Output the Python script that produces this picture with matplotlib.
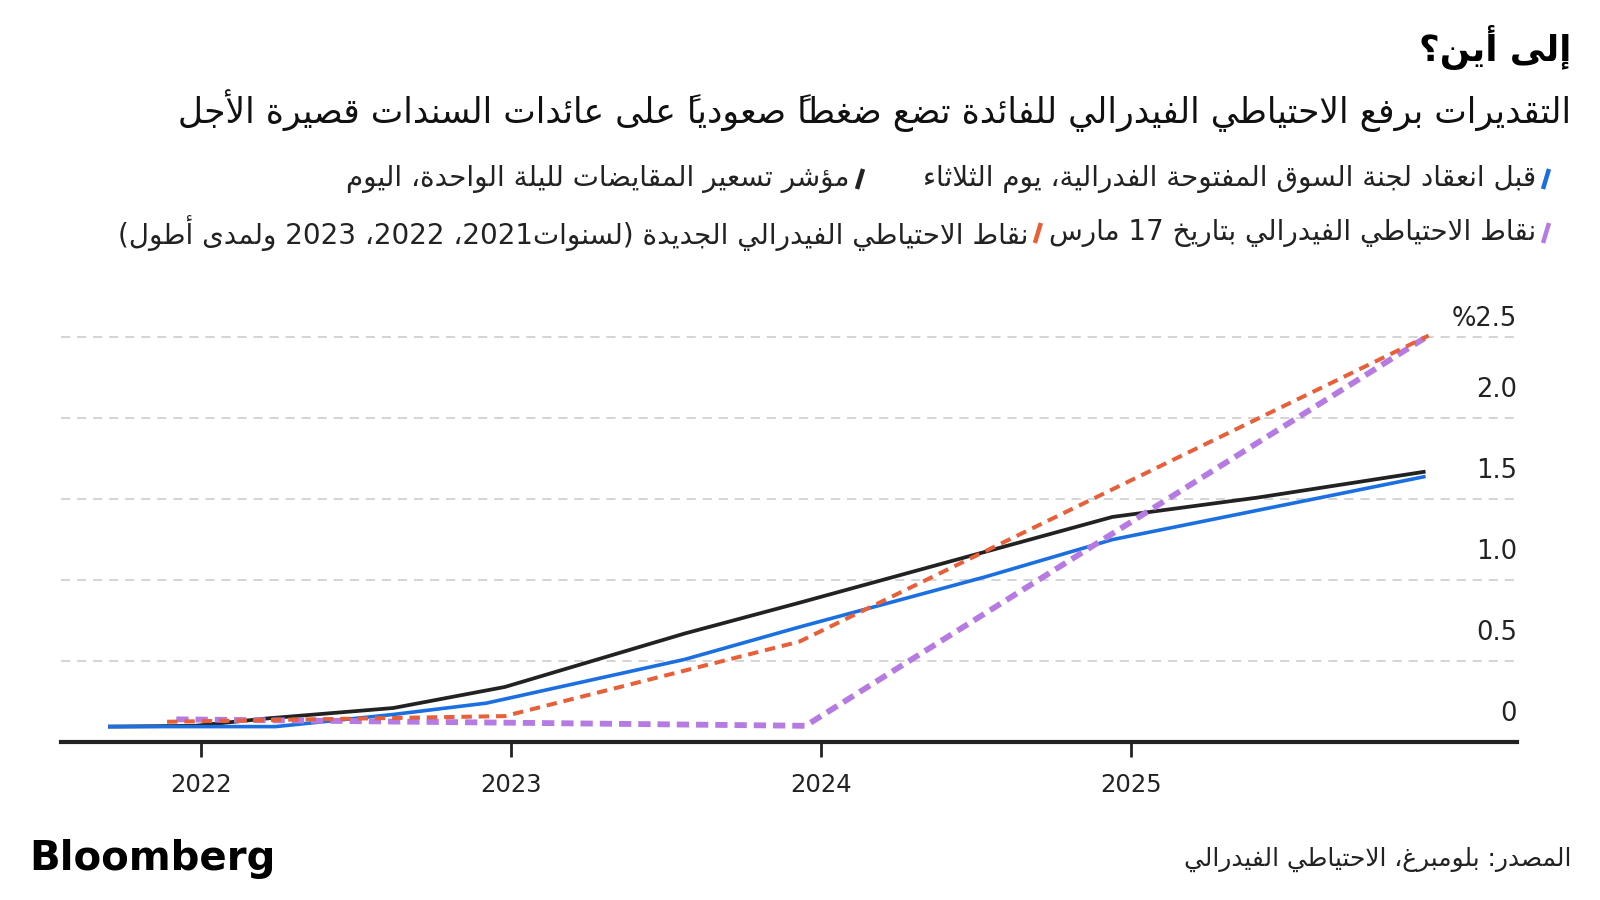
import matplotlib
matplotlib.use("Agg")
import matplotlib.pyplot as plt
from matplotlib.lines import Line2D

plt.rcParams["font.family"] = ["DejaVu Sans"]

# ---- data (decimal years, percent) ----
BLUE_X = [2021.70, 2022.24, 2022.62, 2022.92, 2023.56, 2023.93, 2024.53, 2024.94, 2025.95]
BLUE_Y = [0.095, 0.095, 0.17, 0.24, 0.51, 0.71, 1.02, 1.25, 1.64]
BLACK_X = [2021.70, 2021.98, 2022.21, 2022.62, 2022.98, 2023.56, 2023.93, 2024.94, 2025.41, 2025.95]
BLACK_Y = [0.095, 0.10, 0.145, 0.21, 0.34, 0.67, 0.86, 1.39, 1.51, 1.67]
ORANGE_X = [2021.89, 2022.98, 2023.93, 2025.96]
ORANGE_Y = [0.125, 0.16, 0.62, 2.51]
PURPLE_X = [2021.92, 2022.95, 2023.95, 2025.96]
PURPLE_Y = [0.14, 0.12, 0.10, 2.51]

X_TICKS = [2022, 2023, 2024, 2025]
X_LABELS = ["2022", "2023", "2024", "2025"]
Y_TICKS = [0, 0.5, 1.0, 1.5, 2.0, 2.5]
Y_LABELS = ["0", "0.5", "1.0", "1.5", "2.0", "%2.5"]

TITLE = "إلى أين؟"
SUBTITLE = "التقديرات برفع الاحتياطي الفيدرالي للفائدة تضع ضغطاً صعودياً على عائدات السندات قصيرة الأجل"
LEGEND_BLUE = "قبل انعقاد لجنة السوق المفتوحة الفدرالية، يوم الثلاثاء"
LEGEND_BLACK = "مؤشر تسعير المقايضات لليلة الواحدة، اليوم"
LEGEND_PURPLE = "نقاط الاحتياطي الفيدرالي بتاريخ 17 مارس"
LEGEND_ORANGE = "نقاط الاحتياطي الفيدرالي الجديدة (لسنوات2021، 2022، 2023 ولمدى أطول)"
SOURCE = "المصدر: بلومبرغ، الاحتياطي الفيدرالي"

BLUE = "#1b6fe0"
BLACK = "#222222"
ORANGE = "#e8603a"
PURPLE = "#b57be3"
GRID = "#c9c9c9"

# ---- minimal Arabic shaping + right-to-left ordering (no reshaper libs offline) ----
_DUAL = {"ئ": 0xFE89, "ب": 0xFE8F, "ت": 0xFE95, "ث": 0xFE99, "ج": 0xFE9D, "ح": 0xFEA1,
         "خ": 0xFEA5, "س": 0xFEB1, "ش": 0xFEB5, "ص": 0xFEB9, "ض": 0xFEBD, "ط": 0xFEC1,
         "ظ": 0xFEC5, "ع": 0xFEC9, "غ": 0xFECD, "ف": 0xFED1, "ق": 0xFED5, "ك": 0xFED9,
         "ل": 0xFEDD, "م": 0xFEE1, "ن": 0xFEE5, "ه": 0xFEE9, "ي": 0xFEF1}
_RIGHT = {"آ": 0xFE81, "أ": 0xFE83, "ؤ": 0xFE85, "إ": 0xFE87, "ا": 0xFE8D, "ة": 0xFE93,
          "د": 0xFEA9, "ذ": 0xFEAB, "ر": 0xFEAD, "ز": 0xFEAF, "و": 0xFEED, "ى": 0xFEEF}
_LAM_ALEF = {"آ": 0xFEF5, "أ": 0xFEF7, "إ": 0xFEF9, "ا": 0xFEFB}
_MARKS = {chr(c) for c in range(0x064B, 0x0653)}
_MIRROR = {"(": ")", ")": "("}


def _shape(text):
    chars = list(text)
    n = len(chars)

    def near(i, step):
        i += step
        while 0 <= i < n and chars[i] in _MARKS:
            i += step
        return chars[i] if 0 <= i < n else None

    out = []
    i = 0
    while i < n:
        c = chars[i]
        if c not in _DUAL and c not in _RIGHT:
            out.append("\uFE80" if c == "ء" else c)
            i += 1
            continue
        prev = near(i, -1)
        joined = prev in _DUAL
        if c == "ل" and i + 1 < n and chars[i + 1] in _LAM_ALEF:
            out.append(chr(_LAM_ALEF[chars[i + 1]] + (1 if joined else 0)))
            i += 2
            continue
        nxt = near(i, 1)
        if c in _RIGHT:
            out.append(chr(_RIGHT[c] + (1 if joined else 0)))
        else:
            ahead = nxt in _DUAL or nxt in _RIGHT
            base = _DUAL[c]
            if joined and ahead:
                out.append(chr(base + 3))
            elif joined:
                out.append(chr(base + 1))
            elif ahead:
                out.append(chr(base + 2))
            else:
                out.append(chr(base))
        i += 1
    return "".join(out)


def rtl(text):
    # marks have zero advance and hang to the right, so they go before their letter
    chars = list(_shape(text))
    chars.reverse()
    out, run = [], []
    for ch in chars:
        if ch.isdigit():
            run.append(ch)
            continue
        if run:
            out.extend(reversed(run))
            run = []
        out.append(_MIRROR.get(ch, ch))
    out.extend(reversed(run))
    return "".join(out)


# ---- figure ----
W, H = 1600, 900
fig = plt.figure(figsize=(16, 9), dpi=100)
fig.patch.set_facecolor("white")


def fx(px):
    return px / W


def fy(py):
    return 1 - py / H


ax = fig.add_axes([fx(61), fy(742), fx(1517) - fx(61), (742 - 321) / H])
ax.set_xlim(2021.548, 2026.245)
ax.set_ylim(0, 2.6)

ax.set_yticks(Y_TICKS)
ax.tick_params(axis="y", length=0, labelleft=False)
ax.grid(axis="y", color=GRID, linewidth=1.1, linestyle=(0, (6, 4.5)))
ax.set_axisbelow(True)

ax.plot(BLACK_X, BLACK_Y, color=BLACK, lw=2.7, solid_capstyle="butt", zorder=3)
ax.plot(BLUE_X, BLUE_Y, color=BLUE, lw=2.6, solid_capstyle="butt", zorder=4)
ax.plot(PURPLE_X, PURPLE_Y, color=PURPLE, lw=4.2, dashes=(2.1, 1.2),
        dash_capstyle="butt", zorder=5)
ax.plot(ORANGE_X, ORANGE_Y, color=ORANGE, lw=2.9, dashes=(2.6, 1.7),
        dash_capstyle="butt", zorder=6)

for side in ("top", "right", "left"):
    ax.spines[side].set_visible(False)
ax.spines["bottom"].set_linewidth(3)
ax.spines["bottom"].set_color(BLACK)
ax.spines["bottom"].set_zorder(7)

ax.set_xticks(X_TICKS, X_LABELS)
ax.tick_params(axis="x", direction="out", length=11, width=2, color=BLACK,
               labelsize=17.5, labelcolor=BLACK, pad=11)

for i, (v, lab) in enumerate(zip(Y_TICKS, Y_LABELS)):
    off = 13 if i == len(Y_TICKS) - 1 else 20
    ax.annotate(lab, xy=(1, v), xycoords=("axes fraction", "data"),
                xytext=(0, off), textcoords="offset points",
                ha="right", va="center", fontsize=18.5, color=BLACK)

renderer = fig.canvas.get_renderer()


def width(t):
    return t.get_window_extent(renderer).width


def fit(t, target):
    t.set_fontsize(t.get_fontsize() * target / width(t))


title = fig.text(fx(1571), fy(48), rtl(TITLE), ha="right", va="center",
                 fontsize=24, fontweight="bold", color="#000000")
fit(title, 153)
sub = fig.text(fx(1571), fy(111), rtl(SUBTITLE), ha="right", va="center",
               fontsize=22, color="#111111")
fit(sub, 1396)

# legend: slash marker then its label to the left, right to left along each row;
# the second marker sits where the reference puts it unless the first label is in the way
legend_rows = [
    (179, [(BLUE, LEGEND_BLUE), (BLACK, LEGEND_BLACK)], 860),
    (233, [(PURPLE, LEGEND_PURPLE), (ORANGE, LEGEND_ORANGE)], 1051),
]
probe = [fig.text(0, 0, rtl(s), fontsize=18) for s in (LEGEND_PURPLE, LEGEND_ORANGE)]
leg_size = 18 * 1396 / sum(width(t) for t in probe)
for t in probe:
    t.remove()

for y, items, second_x in legend_rows:
    xs = 1546
    for color, label in items:
        fig.add_artist(Line2D([fx(xs - 3), fx(xs + 3)], [fy(y + 10), fy(y - 10)],
                              color=color, lw=3.2, solid_capstyle="butt"))
        t = fig.text(fx(xs - 10), fy(y), rtl(label), ha="right", va="center",
                     fontsize=leg_size, color=BLACK)
        xs = min(second_x, xs - 10 - width(t) - 11)

fig.text(fx(29), fy(859), "Bloomberg", ha="left", va="center",
         fontsize=29, fontweight="bold", color="#000000")
src = fig.text(fx(1571), fy(859), rtl(SOURCE), ha="right", va="center",
               fontsize=15, color=BLACK)
fit(src, 389)

fig.savefig("out.png", dpi=100, facecolor="white")
